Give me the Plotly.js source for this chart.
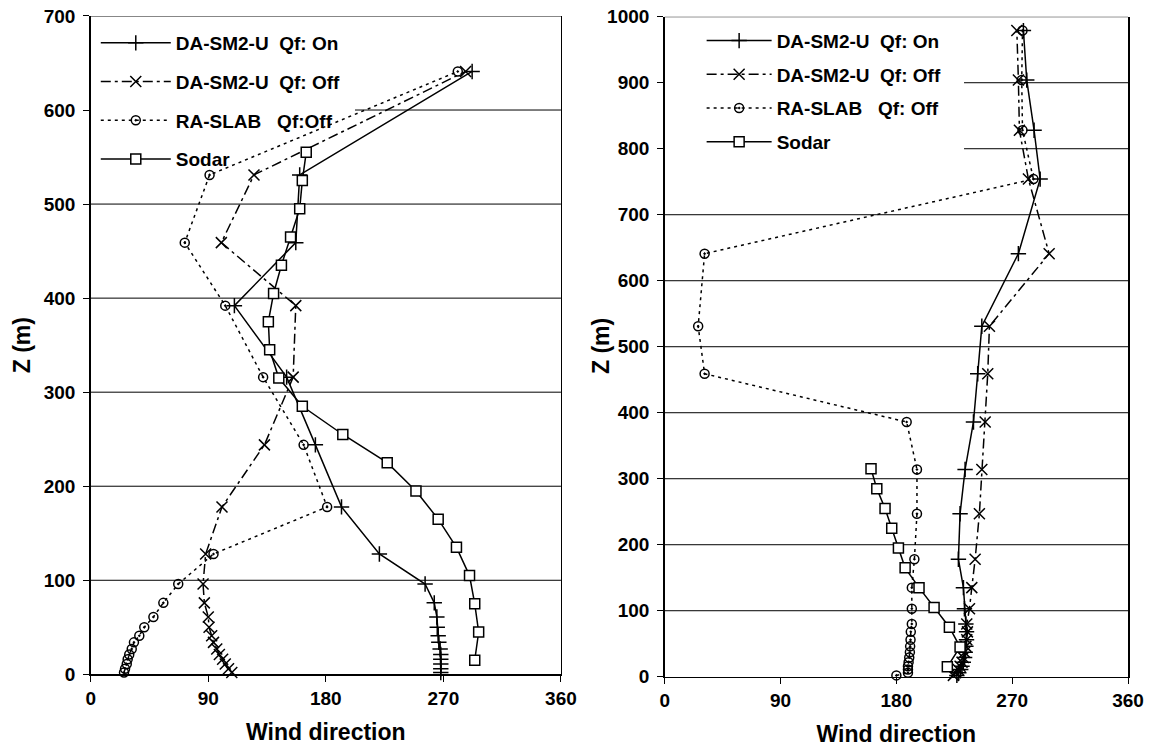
<!DOCTYPE html>
<html>
<head>
<meta charset="utf-8">
<script src="https://cdn.plot.ly/plotly-3.0.1.min.js"></script>
<style>html,body{margin:0;padding:0;background:#fff;}#chart{width:1154px;height:750px;}</style>
</head>
<body>
<div id="chart"></div>
<script>
// ---------- data (left panel) ----------
const leftLevels = [2, 6, 11, 16, 21, 27, 34, 41, 50, 61, 76, 96, 128, 178, 244, 316, 392, 459, 531, 641];
const leftQfOn   = [268, 268, 268, 268, 268, 267.5, 266.5, 266, 265.3, 265, 263, 256, 221, 192, 172, 150, 110, 157, 160, 292];
const leftQfOff  = [108, 105.5, 103, 101, 98.5, 96.5, 94, 92.6, 90.6, 90, 87, 86, 88, 100.5, 133, 155, 157, 100, 125, 287];
const leftSlab   = [25.5, 26.3, 27.6, 28.3, 29.5, 31.4, 33.1, 37.2, 41, 48, 55.6, 67, 94, 181, 163, 132, 103, 72, 91, 281];
const leftSodarZ = [15, 45, 75, 105, 135, 165, 195, 225, 255, 285, 315, 345, 375, 405, 435, 465, 495, 525, 555];
const leftSodar  = [294, 297, 294, 290, 280, 266, 249, 227, 193, 162, 144, 137, 136, 140, 146, 153, 160, 162, 165];

// ---------- data (right panel) ----------
const rightLevels = [2, 6, 11, 16, 22, 29, 37, 46, 56, 68, 80, 103, 135, 178, 247, 314, 386, 459, 531, 641, 754, 828, 904, 979];
const rightQfOn   = [227, 228.5, 230, 231, 232, 233, 233.5, 234, 234.5, 234.5, 234, 232.9, 232.1, 228.2, 229.5, 233.4, 239.9, 243.2, 246.4, 274.8, 291.7, 287, 281.3, 278.7];
const rightQfOff  = [224.3, 226, 228, 229.5, 231, 232, 233, 234, 234.7, 235.2, 234.7, 236.8, 238.6, 241.2, 244.5, 246.4, 249, 251, 252.3, 298.7, 282.6, 275.6, 274.8, 273.6];
const rightSlab   = [180, 189, 189, 189, 189.5, 190, 190.5, 190.7, 191, 191.2, 192, 192, 192, 194, 196, 196, 188, 31, 26, 31, 286.5, 278, 277.4, 278];
const rightSodarZ = [15, 45, 75, 105, 135, 165, 195, 225, 255, 285, 315];
const rightSodar  = [219.6, 229.5, 221.2, 209.3, 197.6, 186.8, 181.6, 176.4, 171.2, 164.8, 160.3];

const xTicks = [0, 90, 180, 270, 360];
const leftYTicks = [0, 100, 200, 300, 400, 500, 600, 700];
const rightYTicks = [0, 100, 200, 300, 400, 500, 600, 700, 800, 900, 1000];
const namesLeft  = ['DA-SM2-U\u00a0\u00a0Qf: On', 'DA-SM2-U\u00a0\u00a0Qf: Off', 'RA-SLAB\u00a0\u00a0\u00a0Qf:Off', 'Sodar'];
const namesRight = ['DA-SM2-U\u00a0\u00a0Qf: On', 'DA-SM2-U\u00a0\u00a0Qf: Off', 'RA-SLAB\u00a0\u00a0\u00a0Qf: Off', 'Sodar'];

const FONT = 'Liberation Sans, Arial, sans-serif';
const styles = [
  {line: {color: 'black', width: 1.5, dash: 'solid'}, marker: {symbol: 'cross-thin-open', size: 11, color: 'black', line: {color: 'black', width: 1.5}}},
  {line: {color: 'black', width: 1.5, dash: '10px,4px,3px,4px'}, marker: {symbol: 'x-thin-open', size: 11, color: 'black', line: {color: 'black', width: 1.5}}},
  {line: {color: 'black', width: 1.5, dash: '3px,4px'}, marker: {symbol: 'circle-open-dot', size: 9, color: 'black', line: {color: 'black', width: 1.5}}},
  {line: {color: 'black', width: 1.5, dash: 'solid'}, marker: {symbol: 'square', size: 10, color: 'white', line: {color: 'black', width: 1.5}}}
];

function mk(x, y, i, name, xa, ya, lg) {
  return Object.assign({type: 'scatter', mode: 'lines+markers', x: x, y: y, name: name,
    xaxis: xa, yaxis: ya, legend: lg, legendgroup: lg + i, cliponaxis: false}, JSON.parse(JSON.stringify(styles[i])));
}

const data = [
  mk(leftQfOn, leftLevels, 0, namesLeft[0], 'x', 'y', 'legend'),
  mk(leftQfOff, leftLevels, 1, namesLeft[1], 'x', 'y', 'legend'),
  mk(leftSlab, leftLevels, 2, namesLeft[2], 'x', 'y', 'legend'),
  mk(leftSodar, leftSodarZ, 3, namesLeft[3], 'x', 'y', 'legend'),
  mk(rightQfOn, rightLevels, 0, namesRight[0], 'x2', 'y2', 'legend2'),
  mk(rightQfOff, rightLevels, 1, namesRight[1], 'x2', 'y2', 'legend2'),
  mk(rightSlab, rightLevels, 2, namesRight[2], 'x2', 'y2', 'legend2'),
  mk(rightSodar, rightSodarZ, 3, namesRight[3], 'x2', 'y2', 'legend2')
];

const tickFont = {family: FONT, size: 19, color: 'black', weight: 'bold'};
const titleFont = {family: FONT, size: 23, color: 'black', weight: 'bold'};

function xax(dom, anchor) {
  return {domain: dom, anchor: anchor, range: [0, 360], tickvals: xTicks, ticktext: xTicks.map(String),
    showgrid: false, zeroline: false, showline: true, linecolor: 'black', linewidth: 1.5,
    ticks: 'outside', ticklen: 6, tickcolor: 'black', tickwidth: 1,
    tickfont: tickFont, title: {text: 'Wind direction', font: titleFont, standoff: 16}, fixedrange: true};
}
function yax(dom, ticks, anchor, title) {
  return {domain: dom, anchor: anchor, range: [0, ticks[ticks.length - 1]], tickvals: ticks, ticktext: ticks.map(String),
    showgrid: false, zeroline: false,
    showline: true, linecolor: 'black', linewidth: 1.5, mirror: true,
    ticks: 'outside', ticklen: 6, tickcolor: 'black', tickwidth: 1, ticklabelstandoff: 4,
    tickfont: tickFont, title: {text: title, font: titleFont, standoff: 6}, fixedrange: true};
}

// horizontal gridlines drawn as shapes so that the part under each legend can be left out
function gridShapes(ticks, xr, yr, skipVals, skipTo) {
  return ticks.filter(v => v > 0).map(v => ({
    type: 'line', xref: xr, yref: yr, x0: skipVals.includes(v) ? skipTo : 0, x1: 1, y0: v, y1: v,
    line: {color: 'black', width: 1}, layer: 'below'
  }));
}

const legendFont = {family: FONT, size: 19, color: 'black', weight: 'bold'};
const layout = {
  width: 1154, height: 750,
  margin: {l: 0, r: 0, t: 0, b: 0},
  paper_bgcolor: 'white', plot_bgcolor: 'white',
  showlegend: true,
  xaxis: xax([0.0786, 0.4861], 'y'),
  yaxis: yax([0.1009, 0.9787], leftYTicks, 'x', 'Z (m)'),
  xaxis2: xax([0.576, 0.9775], 'y2'),
  yaxis2: yax([0.0977, 0.9777], rightYTicks, 'x2', ''),
  legend: {x: 0.083, y: 0.968, xanchor: 'left', yanchor: 'top', bgcolor: 'rgba(0,0,0,0)', borderwidth: 0,
    font: legendFont, itemwidth: 70, traceorder: 'grouped', tracegroupgap: 11},
  legend2: {x: 0.608, y: 0.971, xanchor: 'left', yanchor: 'top', bgcolor: 'rgba(0,0,0,0)', borderwidth: 0,
    font: legendFont, itemwidth: 65, traceorder: 'grouped', tracegroupgap: 6},
  annotations: [
    {text: 'Z (m)', xref: 'paper', yref: 'paper', x: 601 / 1154, y: 1 - 346 / 750, xanchor: 'center', yanchor: 'middle',
      textangle: -90, showarrow: false, font: titleFont}
  ],
  shapes: [].concat(
    gridShapes(leftYTicks, 'x domain', 'y', [600], 0.562),
    gridShapes(rightYTicks, 'x2 domain', 'y2', [800, 900], 0.646)
  )
};

Plotly.newPlot('chart', data, layout, {staticPlot: true, displayModeBar: false});
</script>
</body>
</html>
